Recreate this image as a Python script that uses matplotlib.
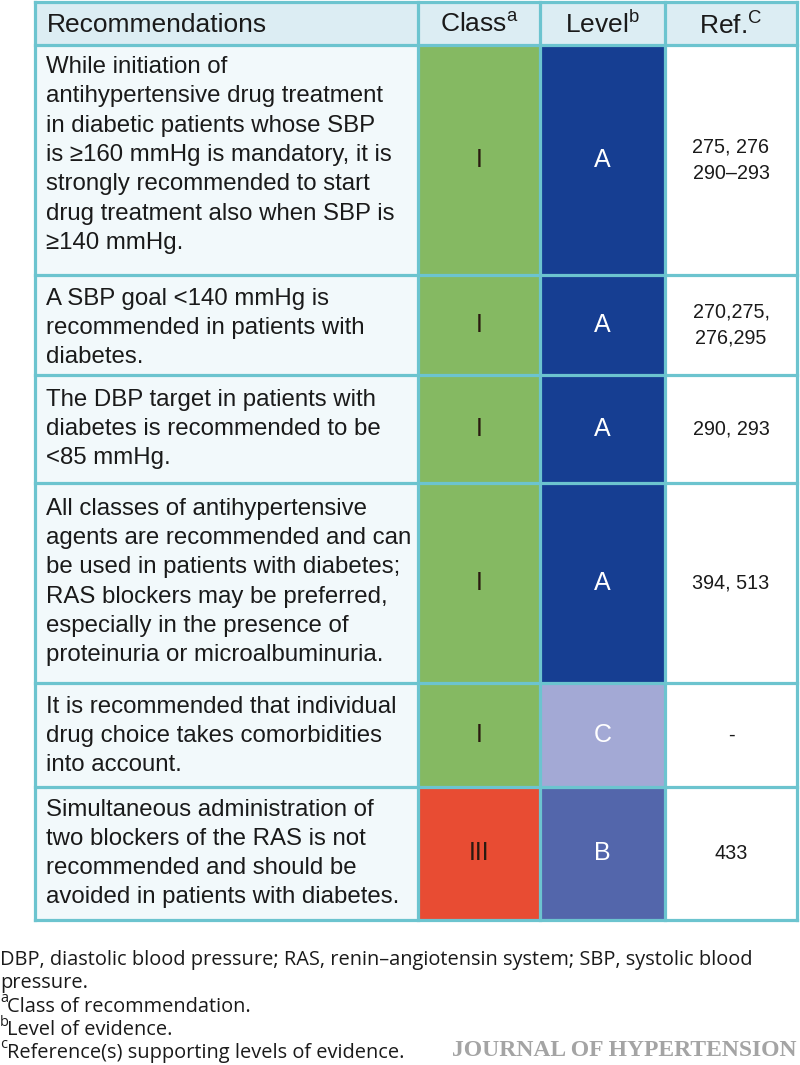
import matplotlib
matplotlib.use("Agg")
import matplotlib.pyplot as plt
from matplotlib.patches import Rectangle

plt.rcParams['mathtext.fontset'] = 'custom'
plt.rcParams['mathtext.rm'] = 'Liberation Sans'

# ---------------- data ----------------
header_labels = ["Recommendations", r"Class$^{\mathrm{a}}$", r"Level$^{\mathrm{b}}$", r"Ref.$^{\mathrm{C}}$"]

recommendations = [
    "While initiation of\nantihypertensive drug treatment\nin diabetic patients whose SBP\nis \u2265160 mmHg is mandatory, it is\nstrongly recommended to start\ndrug treatment also when SBP is\n\u2265140 mmHg.",
    "A SBP goal <140 mmHg is\nrecommended in patients with\ndiabetes.",
    "The DBP target in patients with\ndiabetes is recommended to be\n<85 mmHg.",
    "All classes of antihypertensive\nagents are recommended and can\nbe used in patients with diabetes;\nRAS blockers may be preferred,\nespecially in the presence of\nproteinuria or microalbuminuria.",
    "It is recommended that individual\ndrug choice takes comorbidities\ninto account.",
    "Simultaneous administration of\ntwo blockers of the RAS is not\nrecommended and should be\navoided in patients with diabetes.",
]
classes = ["I", "I", "I", "I", "I", "III"]
levels = ["A", "A", "A", "A", "C", "B"]
refs = ["275, 276\n290\u2013293", "270,275,\n276,295", "290, 293", "394, 513", "-", "433"]

footnote_lines = ["DBP, diastolic blood pressure; RAS, renin\u2013angiotensin system; SBP, systolic blood",
                  "pressure."]
footnote_marks = ["a", "b", "c"]
footnote_texts = ["Class of recommendation.", "Level of evidence.", "Reference(s) supporting levels of evidence."]
journal = "JOURNAL OF HYPERTENSION"

# ---------------- styles / layout ----------------
class_colors = {"I": "#85b962", "III": "#e84c33"}
level_colors = {"A": "#163e92", "B": "#5366ab", "C": "#a3a9d5"}
border = "#6cc4cf"
header_bg = "#dcedf3"
rec_bg = "#f2f9fb"

col_x = [35, 418, 540, 665, 797]
row_y = [2, 45, 275, 375, 483, 683, 787, 920]
text_dy = [-5, 3, 0, -1, 1, 0]

W, H = 800, 1065
fig = plt.figure(figsize=(W / 100, H / 100), dpi=100)
ax = fig.add_axes([0, 0, 1, 1])
ax.set_xlim(0, W)
ax.set_ylim(H, 0)
ax.axis("off")

body_font = "Liberation Sans"
fs_body = 17.3

# header
for j in range(4):
    ax.add_patch(Rectangle((col_x[j], row_y[0]), col_x[j + 1] - col_x[j], row_y[1] - row_y[0],
                           facecolor=header_bg, edgecolor="none", zorder=1))
ax.text(col_x[0] + 12, (row_y[0] + row_y[1]) / 2 + 1, header_labels[0], fontsize=19,
        family=body_font, color="#1a1a1a", va="center", ha="left", zorder=3)
for j in range(1, 4):
    ax.text((col_x[j] + col_x[j + 1]) / 2, (row_y[0] + row_y[1]) / 2 + 1, header_labels[j],
            fontsize=19, family=body_font, color="#1a1a1a", va="center", ha="center", zorder=3)

# body rows
for i in range(len(recommendations)):
    y0, y1 = row_y[i + 1], row_y[i + 2]
    h = y1 - y0
    yc = (y0 + y1) / 2
    ax.add_patch(Rectangle((col_x[0], y0), col_x[1] - col_x[0], h, facecolor=rec_bg, edgecolor="none", zorder=1))
    ax.add_patch(Rectangle((col_x[1], y0), col_x[2] - col_x[1], h, facecolor=class_colors[classes[i]], edgecolor="none", zorder=1))
    ax.add_patch(Rectangle((col_x[2], y0), col_x[3] - col_x[2], h, facecolor=level_colors[levels[i]], edgecolor="none", zorder=1))
    ax.add_patch(Rectangle((col_x[3], y0), col_x[4] - col_x[3], h, facecolor="white", edgecolor="none", zorder=1))
    ax.text(col_x[0] + 11, yc + text_dy[i], recommendations[i], fontsize=fs_body, family=body_font,
            color="#1a1a1a", va="center", ha="left", linespacing=1.43, zorder=3)
    ax.text((col_x[1] + col_x[2]) / 2, yc, classes[i], fontsize=18, family=body_font,
            color="#2a1a10", va="center", ha="center", zorder=3)
    ax.text((col_x[2] + col_x[3]) / 2, yc, levels[i], fontsize=18, family=body_font,
            color="white", va="center", ha="center", zorder=3)
    ax.text((col_x[3] + col_x[4]) / 2, yc, refs[i], fontsize=14.2, family=body_font,
            color="#1a1a1a", va="center", ha="center", linespacing=1.47, zorder=3)

# grid lines
for y in row_y:
    ax.plot([col_x[0], col_x[-1]], [y, y], color=border, lw=2.3, zorder=4, solid_capstyle="projecting")
for x in col_x:
    ax.plot([x, x], [row_y[0], row_y[-1]], color=border, lw=2.3, zorder=4, solid_capstyle="projecting")

# footnotes
foot_font = "Open Sans"
fs_foot = 14.4
for t, y in zip(footnote_lines, [960, 983]):
    ax.text(0, y, t, fontsize=fs_foot, family=foot_font, color="#1a1a1a", va="center", ha="left")
for m, t, y in zip(footnote_marks, footnote_texts, [1007, 1030, 1053]):
    ax.text(0, y - 8, m, fontsize=10.5, family=foot_font, color="#1a1a1a", va="center", ha="left")
    ax.text(7, y, t, fontsize=fs_foot, family=foot_font, color="#1a1a1a", va="center", ha="left")

ax.text(797, 1051, journal, fontsize=17, family="Liberation Serif", weight="bold",
        color="#a4a4a4", va="center", ha="right")

fig.savefig("out.png", dpi=100)
